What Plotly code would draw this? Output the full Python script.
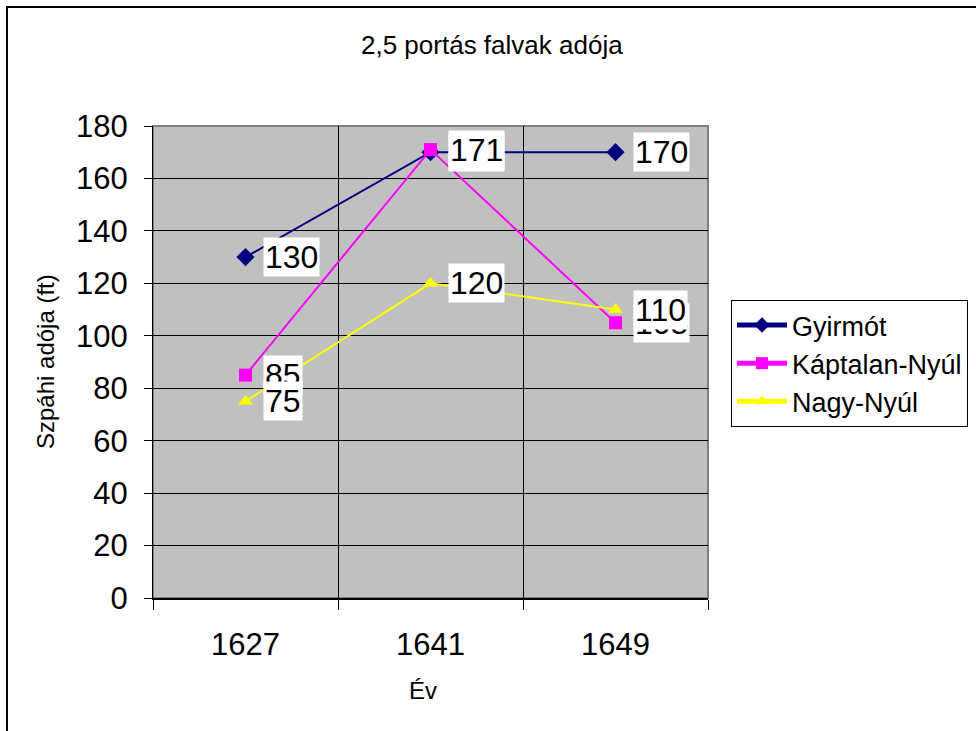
import plotly.graph_objects as go

years = ["1627", "1641", "1649"]
series_names = ["Gyirmót", "Káptalan-Nyúl", "Nagy-Nyúl"]
gyirmot = [130, 170, 170]
kaptalan = [85, 171, 105]
nagy = [75, 120, 110]
colors = ["#000080", "#FF00FF", "#FFFF00"]
symbols = ["diamond", "square", "triangle-up"]
y_ticks = list(range(0, 181, 20))

FONT = "Liberation Sans, Arial, sans-serif"
xpos = list(range(len(years)))

fig = go.Figure()
for name, vals, col, sym in zip(series_names, [gyirmot, kaptalan, nagy], colors, symbols):
    fig.add_trace(go.Scatter(
        x=xpos, y=vals, name=name, mode="lines+markers",
        line=dict(color=col, width=2),
        marker=dict(symbol=sym, size=14 if sym == "diamond" else 13, color=col,
                    line=dict(width=0)),
    ))

# data labels with white boxes
for vals in [gyirmot, kaptalan, nagy]:
    for xi, v in zip(xpos, vals):
        fig.add_annotation(x=xi, y=v, xref="x", yref="y", text=str(v),
                           showarrow=False, xanchor="left", yanchor="middle",
                           xshift=17, bgcolor="white", borderpad=1,
                           font=dict(family=FONT, size=32, color="black"))

L, R, T, B = 153, 708, 126, 598
W, H = 976, 731
pw, ph = R - L, B - T

def px2x(px):
    return (px - L) / pw

def py2y(py):
    return (B - py) / ph

# plot area border
fig.add_shape(type="rect", xref="paper", yref="paper", x0=0, x1=1, y0=0, y1=1,
              line=dict(color="#808080", width=2), layer="below")
# outer chart border
fig.add_shape(type="rect", xref="paper", yref="paper",
              x0=px2x(7), x1=px2x(990), y0=py2y(745), y1=py2y(7),
              line=dict(color="black", width=2))

# title and axis titles
fig.add_annotation(xref="paper", yref="paper", x=px2x(492), y=py2y(45),
                   xanchor="center", yanchor="middle",
                   text="2,5 portás falvak adója", showarrow=False,
                   font=dict(family=FONT, size=26, color="black"))
fig.add_annotation(xref="paper", yref="paper", x=px2x(423), y=py2y(690),
                   xanchor="center", yanchor="middle",
                   text="Év", showarrow=False,
                   font=dict(family=FONT, size=24, color="black"))
fig.add_annotation(xref="paper", yref="paper", x=px2x(45), y=py2y(362),
                   xanchor="center", yanchor="middle",
                   text="Szpáhi adója (ft)", showarrow=False, textangle=-90,
                   font=dict(family=FONT, size=24, color="black"))

fig.update_layout(
    width=W, height=H,
    margin=dict(l=L, r=W - R, t=T, b=H - B, autoexpand=False),
    paper_bgcolor="white", plot_bgcolor="#C0C0C0",
    font=dict(family=FONT, color="black"),
    showlegend=True,
    legend=dict(x=px2x(731), y=py2y(300), xanchor="left", yanchor="top",
                xref="paper", yref="paper",
                bordercolor="black", borderwidth=1, bgcolor="white",
                font=dict(family=FONT, size=27, color="black"),
                itemsizing="constant", itemwidth=50, tracegroupgap=0),
    xaxis=dict(range=[-0.5, 2.5], tickvals=xpos, ticktext=years, ticks="",
               showgrid=False, zeroline=False, showline=True, linecolor="black",
               linewidth=2, mirror=False, ticklabelstandoff=18,
               tickfont=dict(family=FONT, size=31, color="black"),
               minor=dict(tickvals=[-0.5, 0.5, 1.5, 2.5], ticks="outside", ticklen=10,
                          tickcolor="black", tickwidth=1, showgrid=True,
                          gridcolor="black", gridwidth=1)),
    yaxis=dict(range=[0, 180], tickvals=y_ticks, ticks="outside", ticklen=8,
               tickcolor="black", showgrid=True, gridcolor="black", gridwidth=1,
               zeroline=False, showline=True, linecolor="black", linewidth=1,
               ticklabelstandoff=10,
               tickfont=dict(family=FONT, size=31, color="black")),
)

fig.write_html("out.html", config={"displayModeBar": False},
               post_script="document.body.style.margin='0';document.body.style.overflow='hidden';")
